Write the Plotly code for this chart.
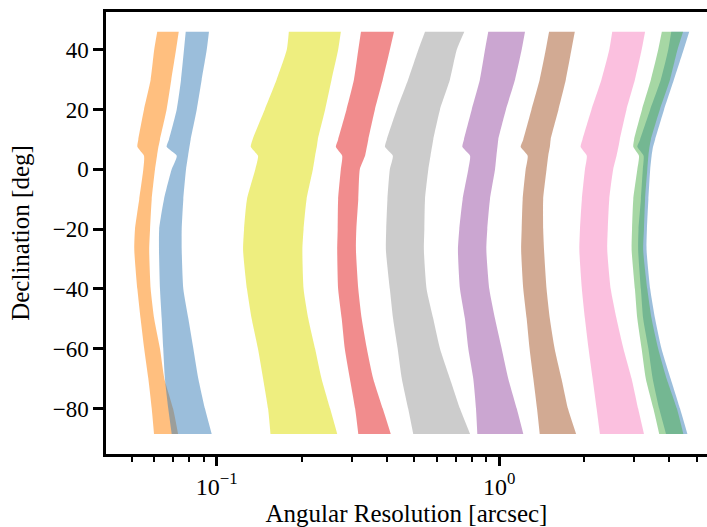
import plotly.graph_objects as go

# Declination samples [deg] (shared by every band; 7.5 / 4.5 bracket the notch)
dec = [46, 40, 30, 20, 10, 7.5, 4.5, 0, -10, -20, -27, -40, -50, -60, -70, -80, -88.5]

# Angular resolution [arcsec]: lower (best) and upper (worst) edge of each band
blue_r_lo = [4.06, 3.96, 3.73, 3.42, 3.15, 3.08, 3.24, 3.22, 3.17, 3.11, 3.10, 3.17, 3.23, 3.37, 3.49, 3.68, 3.89]
blue_r_hi = [4.70, 4.49, 4.15, 3.83, 3.56, 3.50, 3.46, 3.42, 3.37, 3.33, 3.32, 3.42, 3.56, 3.75, 4.04, 4.36, 4.63]

orange_lo = [0.0616, 0.0601, 0.0584, 0.0553, 0.0528, 0.0524, 0.0553, 0.0550, 0.0532, 0.0514, 0.0511, 0.0524, 0.0538, 0.0554, 0.0573, 0.0589, 0.0600]
orange_hi = [0.0734, 0.0718, 0.0691, 0.0665, 0.0630, 0.0622, 0.0615, 0.0605, 0.0589, 0.0581, 0.0577, 0.0584, 0.0601, 0.0630, 0.0653, 0.0701, 0.0730]

green_lo = [3.76, 3.65, 3.44, 3.20, 3.00, 2.98, 3.12, 3.08, 2.98, 2.95, 2.94, 3.02, 3.08, 3.19, 3.30, 3.51, 3.68]
green_hi = [4.47, 4.27, 4.02, 3.70, 3.44, 3.40, 3.37, 3.34, 3.28, 3.25, 3.23, 3.34, 3.46, 3.65, 3.91, 4.25, 4.48]

pink_lo = [2.51, 2.45, 2.30, 2.12, 1.97, 1.94, 2.04, 2.01, 1.96, 1.93, 1.92, 1.96, 2.01, 2.07, 2.14, 2.21, 2.27]
pink_hi = [3.28, 3.19, 3.02, 2.82, 2.67, 2.64, 2.60, 2.53, 2.45, 2.42, 2.41, 2.48, 2.60, 2.75, 2.94, 3.10, 3.25]

brown_lo = [1.50, 1.46, 1.39, 1.30, 1.216, 1.19, 1.26, 1.24, 1.21, 1.20, 1.195, 1.216, 1.25, 1.28, 1.32, 1.36, 1.39]
brown_hi = [1.85, 1.80, 1.72, 1.62, 1.52, 1.51, 1.49, 1.47, 1.43, 1.43, 1.44, 1.47, 1.51, 1.57, 1.66, 1.75, 1.87]

purple_lo = [0.914, 0.890, 0.854, 0.799, 0.750, 0.740, 0.788, 0.777, 0.742, 0.722, 0.714, 0.726, 0.756, 0.777, 0.809, 0.827, 0.836]
purple_hi = [1.233, 1.200, 1.137, 1.056, 0.992, 0.985, 0.977, 0.966, 0.927, 0.907, 0.900, 0.922, 0.966, 1.020, 1.076, 1.153, 1.216]

gray_lo = [0.546, 0.517, 0.476, 0.434, 0.400, 0.394, 0.420, 0.410, 0.402, 0.398, 0.397, 0.410, 0.421, 0.437, 0.452, 0.476, 0.496]
gray_hi = [0.752, 0.707, 0.669, 0.617, 0.584, 0.578, 0.571, 0.561, 0.546, 0.543, 0.541, 0.553, 0.584, 0.617, 0.669, 0.726, 0.788]

red_lo = [0.324, 0.317, 0.306, 0.288, 0.269, 0.264, 0.278, 0.275, 0.269, 0.268, 0.267, 0.269, 0.277, 0.284, 0.296, 0.309, 0.317]
red_hi = [0.424, 0.410, 0.387, 0.363, 0.344, 0.340, 0.335, 0.321, 0.317, 0.312, 0.311, 0.317, 0.326, 0.340, 0.358, 0.387, 0.413]

yellow_lo = [0.180, 0.177, 0.163, 0.148, 0.134, 0.132, 0.140, 0.137, 0.128, 0.125, 0.124, 0.128, 0.133, 0.140, 0.146, 0.152, 0.155]
yellow_hi = [0.275, 0.269, 0.255, 0.242, 0.228, 0.226, 0.223, 0.219, 0.208, 0.203, 0.201, 0.203, 0.211, 0.223, 0.235, 0.252, 0.267]

blue_l_lo = [0.0777, 0.0766, 0.0748, 0.0722, 0.0678, 0.0665, 0.0722, 0.0693, 0.0651, 0.0626, 0.0625, 0.0630, 0.0639, 0.0647, 0.0656, 0.0674, 0.0693]
blue_l_hi = [0.0939, 0.0922, 0.0885, 0.0850, 0.0809, 0.0801, 0.0792, 0.0779, 0.0762, 0.0752, 0.0752, 0.0762, 0.0794, 0.0827, 0.0861, 0.0909, 0.0960]

# Draw order and colour (colour-blind friendly cycle, alpha 0.5)
bands = [
    (blue_r_lo, blue_r_hi, (55, 126, 184)),
    (orange_lo, orange_hi, (255, 127, 0)),
    (green_lo, green_hi, (77, 175, 74)),
    (pink_lo, pink_hi, (247, 129, 191)),
    (brown_lo, brown_hi, (166, 86, 40)),
    (purple_lo, purple_hi, (152, 78, 163)),
    (gray_lo, gray_hi, (153, 153, 153)),
    (red_lo, red_hi, (228, 26, 28)),
    (yellow_lo, yellow_hi, (222, 222, 0)),
    (blue_l_lo, blue_l_hi, (55, 126, 184)),
]

x_major = [0.1, 1]
x_major_text = ["10<sup>\u22121</sup>", "10<sup>0</sup>"]
x_minor = [0.05, 0.06, 0.07, 0.08, 0.09, 0.2, 0.3, 0.4, 0.5, 0.6, 0.7, 0.8, 0.9, 2, 3, 4, 5]
y_ticks = [-80, -60, -40, -20, 0, 20, 40]

SMOOTH = 0.55
fig = go.Figure()
for lo, hi, (r, g, b) in bands:
    fig.add_trace(go.Scatter(
        x=lo, y=dec, mode="lines",
        line=dict(width=0.01, color="rgba(0,0,0,0)", shape="spline", smoothing=SMOOTH),
        hoverinfo="skip", showlegend=False,
    ))
    fig.add_trace(go.Scatter(
        x=hi, y=dec, mode="lines", fill="tonextx",
        fillcolor=f"rgba({r},{g},{b},0.5)",
        line=dict(width=0.01, color="rgba(0,0,0,0)", shape="spline", smoothing=SMOOTH),
        hoverinfo="skip", showlegend=False,
    ))

FONT = "Liberation Serif"
fig.update_layout(
    width=707, height=527,
    margin=dict(l=106, r=0, t=12, b=73, autoexpand=False),
    paper_bgcolor="white", plot_bgcolor="white",
    font=dict(family=FONT, size=23, color="black"),
    showlegend=False,
    xaxis=dict(
        type="log", range=[-1.3917, 0.7350], automargin=False,
        showgrid=False, zeroline=False,
        showline=True, linecolor="black", linewidth=2.5, mirror=True,
        ticks="outside", ticklen=9, tickwidth=2.5, tickcolor="black",
        tickmode="array", tickvals=x_major, ticktext=x_major_text,
        minor=dict(tickmode="array", tickvals=x_minor, ticks="outside",
                   ticklen=5, tickwidth=2, tickcolor="black", showgrid=False),
        title=dict(text="Angular Resolution [arcsec]", standoff=2,
                   font=dict(family=FONT, size=25)),
        tickfont=dict(family=FONT, size=24),
    ),
    yaxis=dict(
        range=[-95.2, 52.6], automargin=False,
        showgrid=False, zeroline=False,
        showline=True, linecolor="black", linewidth=2.5, mirror=False,
        ticks="outside", ticklen=10, tickwidth=2.5, tickcolor="black",
        tickmode="array", tickvals=y_ticks,
        title=dict(text="Declination [deg]", standoff=16,
                   font=dict(family=FONT, size=25)),
        tickfont=dict(family=FONT, size=23),
    ),
)

fig.write_html(
    "out.html",
    config={"displayModeBar": False},
    post_script="document.body.style.margin='0';document.body.style.padding='0';",
)
